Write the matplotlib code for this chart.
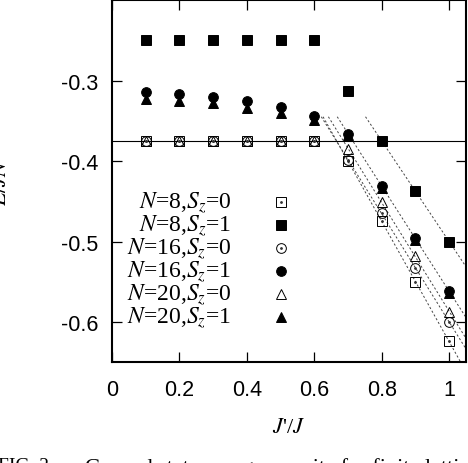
import matplotlib
matplotlib.use("Agg")
import matplotlib.pyplot as plt
import numpy as np

plt.rcParams["mathtext.fontset"] = "stix"

# J'/J values
x_low = [0.1, 0.2, 0.3, 0.4, 0.5, 0.6]
x_high = [0.7, 0.8, 0.9, 1.0]
x_all = x_low + x_high

# E/JN
n8_s0 = [-0.375] * 6 + [-0.400, -0.475, -0.550, -0.624]
n8_s1 = [-0.250] * 6 + [-0.3125, -0.375, -0.4375, -0.500]
n16_s0 = [-0.375] * 6 + [-0.399, -0.464, -0.533, -0.600]
n16_s1 = [-0.3145, -0.3165, -0.320, -0.3256, -0.3326, -0.344,
          -0.366, -0.431, -0.496, -0.562]
n20_s0 = [-0.375] * 6 + [-0.385, -0.451, -0.518, -0.5875]
n20_s1 = [-0.3235, -0.325, -0.328, -0.334, -0.340, -0.349,
          -0.368, -0.433, -0.498, -0.564]

e_ref = -0.375  # horizontal reference line

series = [
    (n8_s0, "s", "none", r"$N$=8,$S_z$=0"),
    (n8_s1, "s", "black", r"$N$=8,$S_z$=1"),
    (n16_s0, "o", "none", r"$N$=16,$S_z$=0"),
    (n16_s1, "o", "black", r"$N$=16,$S_z$=1"),
    (n20_s0, "^", "none", r"$N$=20,$S_z$=0"),
    (n20_s1, "^", "black", r"$N$=20,$S_z$=1"),
]

fig = plt.figure(figsize=(4.68, 4.64), dpi=100)
ax = fig.add_axes([0.2393, 0.217, 0.7564, 0.7808])

ax.axhline(e_ref, color="black", lw=0.8, zorder=1)

# linear fits through the large J'/J points, drawn from about y=-0.345 down
for vals, m, fc, lab in series:
    if vals is n20_s1:
        continue
    yh = np.array(vals[6:])
    b, a = np.polyfit(x_high, yh, 1)
    x0 = (-0.345 - a) / b
    xs = np.array([x0, 1.2])
    ax.plot(xs, a + b * xs, color="#444444", lw=0.7,
            linestyle=(0, (2.2, 2.2)), zorder=1)

# legend drawn gnuplot-style: right-aligned key text, symbol to its right
key_tx = 0.338
key_mx = 0.477
key_y0 = 0.4425
key_dy = 0.0637

for i, (vals, m, fc, lab) in enumerate(series):
    ms = 7.0 if m != "^" else 7.5
    ax.plot(x_all, vals, linestyle="none", marker=m, ms=ms,
            mfc=fc, mec="black", mew=0.7, color="black", zorder=3)
    ky = key_y0 - i * key_dy
    ax.plot([key_mx], [ky], transform=ax.transAxes, linestyle="none",
            marker=m, ms=ms, mfc=fc, mec="black", mew=0.7, zorder=3)
    ax.text(key_tx, ky, lab, transform=ax.transAxes, ha="right",
            va="center", fontsize=17, family="Liberation Serif")
    if fc == "none" and m != "^":
        ax.plot(x_all, vals, linestyle="none", marker="o", ms=1.0,
                color="#333333", zorder=3)
        ax.plot([key_mx], [ky], transform=ax.transAxes, linestyle="none",
                marker="o", ms=1.0, color="#333333", zorder=3)

ax.set_xlim(0, 1.05)
ax.set_ylim(-0.65, -0.2)
ax.set_xticks([0, 0.2, 0.4, 0.6, 0.8, 1.0])
ax.set_xticklabels(["0", "0.2", "0.4", "0.6", "0.8", "1"])
ax.set_yticks([-0.3, -0.4, -0.5, -0.6])
ax.set_yticklabels(["-0.3", "-0.4", "-0.5", "-0.6"])
ax.tick_params(direction="in", length=7, width=0.9, top=True, right=True,
               labelsize=15.5)
ax.tick_params(axis="x", pad=12)
ax.tick_params(axis="y", pad=10)
for lbl in ax.get_xticklabels() + ax.get_yticklabels():
    lbl.set_family("Liberation Sans")
for sp in ax.spines.values():
    sp.set_linewidth(1.5)

ax.set_xlabel(r"$J$'/$J$", fontsize=16, family="Liberation Serif")
ax.xaxis.set_label_coords(0.5, -0.155)
ax.set_ylabel(r"$E/JN$", fontsize=16, family="Liberation Serif")
ax.yaxis.set_label_coords(-0.285, 0.5)

fig.text(-0.004, 0.0129, "FIG. 2.", ha="left", va="top", fontsize=14,
         family="Liberation Serif")
fig.text(85 / 468, 0.0129, "Ground state energy per site for finite lattices",
         ha="left", va="top", fontsize=16, family="Liberation Serif")

fig.savefig("out.png", dpi=100)
